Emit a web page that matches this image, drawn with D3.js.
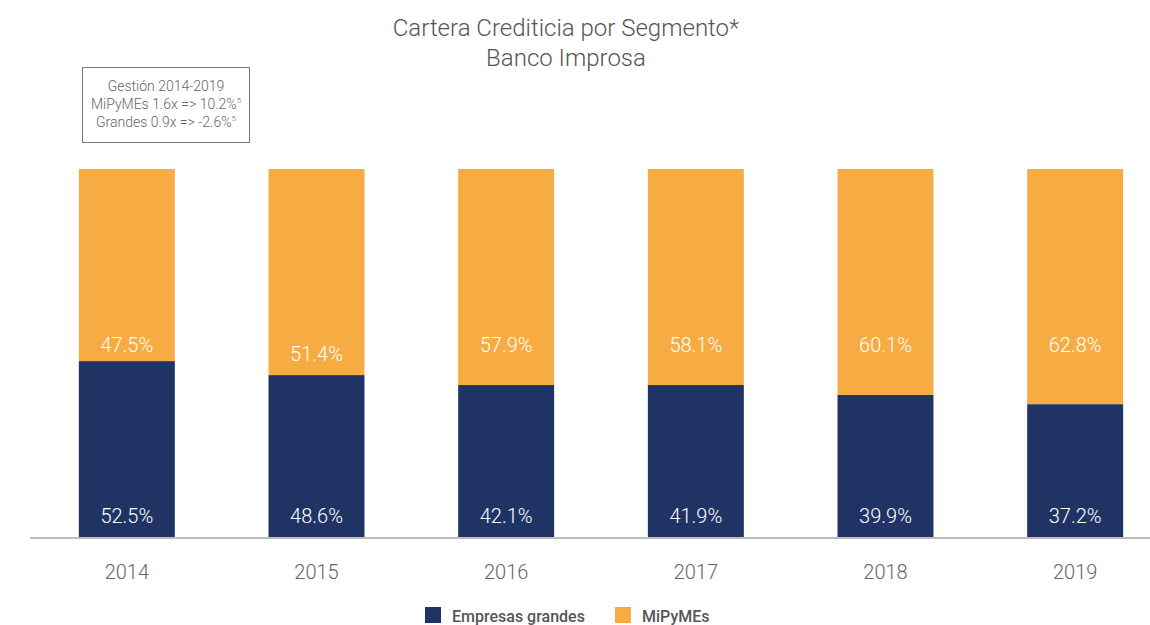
<!DOCTYPE html>
<html lang="es">
  <head>
    <meta charset="utf-8">
    <title>Cartera Crediticia por Segmento</title>
    <script src="https://d3js.org/d3.v7.min.js"></script>
    <style>
      body { margin: 0; background: #fff; }
      text { font-family: Roboto, "Noto Sans", sans-serif; }
    </style>
  </head>

  <body>
  <script>

// data

  var years = ["2014", "2015", "2016", "2017", "2018", "2019"];
  // share of the bar drawn for each segment (as measured on the picture)
  var grandesShare = [47.8, 44.0, 41.3, 41.3, 38.6, 36.1];
  var pymesShare   = [52.2, 56.0, 58.7, 58.7, 61.4, 63.9];
  // printed labels
  var grandesLabel = ["52.5%", "48.6%", "42.1%", "41.9%", "39.9%", "37.2%"];
  var pymesLabel   = ["47.5%", "51.4%", "57.9%", "58.1%", "60.1%", "62.8%"];
  var seriesNames  = ["Empresas grandes", "MiPyMEs"];
  var noteLines    = ["Gestión 2014-2019", "MiPyMEs 1.6x => 10.2%", "Grandes 0.9x => -2.6%"];

  var w = 1150;
  var h = 625;
  var navy = "#1f3464";
  var orange = "#f6ac42";

  var svg = d3.select("body")
    .append("svg")
      .attr("width", w)
      .attr("height", h);

  var xScale = d3.scaleBand()
      .domain(years)
      .range([32, 1170])
      .paddingInner(0.494)
      .paddingOuter(0.247);

  var yScale = d3.scaleLinear()
      .domain([0, 100])
      .range([537, 169]);

  var rows = years.map((y, i) => ({year: y, g: grandesShare[i], p: pymesShare[i]}));
  var stacked = d3.stack().keys(["g", "p"])(rows);
  var colors = [navy, orange];

  svg.append("g")
    .selectAll("g")
    .data(stacked)
    .join("g")
      .attr("fill", (d, i) => colors[i])
    .selectAll("rect")
    .data(d => d)
    .join("rect")
      .attr("x", d => xScale(d.data.year))
      .attr("y", d => yScale(d[1]))
      .attr("width", xScale.bandwidth())
      .attr("height", d => yScale(d[0]) - yScale(d[1]));

// value labels

  var cx = d => xScale(d) + xScale.bandwidth() / 2;

  svg.append("g")
    .selectAll("text")
    .data(years)
    .join("text")
      .attr("x", cx)
      .attr("y", 523)
      .attr("text-anchor", "middle")
      .attr("fill", "#fff")
      .attr("font-size", 20)
      .attr("font-weight", 300)
      .text((d, i) => grandesLabel[i]);

  svg.append("g")
    .selectAll("text")
    .data(years)
    .join("text")
      .attr("x", cx)
      .attr("y", (d, i) => i == 1 ? 361 : 352)
      .attr("text-anchor", "middle")
      .attr("fill", "#fff")
      .attr("font-size", 20)
      .attr("font-weight", 300)
      .text((d, i) => pymesLabel[i]);

// x axis

  svg.append("line")
      .attr("x1", 30).attr("x2", 1150)
      .attr("y1", 538).attr("y2", 538)
      .attr("stroke", "#bdbdbd")
      .attr("stroke-width", 2);

  svg.append("g")
    .selectAll("text")
    .data(years)
    .join("text")
      .attr("x", cx)
      .attr("y", 579)
      .attr("text-anchor", "middle")
      .attr("fill", "#666")
      .attr("font-size", 20)
      .attr("font-weight", 300)
      .text(d => d);

// title

  var title = svg.append("text")
      .attr("x", 566)
      .attr("text-anchor", "middle")
      .attr("fill", "#555")
      .attr("font-size", 24)
      .attr("font-weight", 300);
  title.append("tspan").attr("x", 566).attr("y", 36).text("Cartera Crediticia por Segmento*");
  title.append("tspan").attr("x", 566).attr("y", 66).text("Banco Improsa");

// note box

  svg.append("rect")
      .attr("x", 82.5).attr("y", 67.5)
      .attr("width", 167).attr("height", 75)
      .attr("fill", "none")
      .attr("stroke", "#777")
      .attr("stroke-width", 1);

  noteLines.forEach(function (line, i) {
    var t = svg.append("text")
        .attr("x", 166)
        .attr("y", 91 + i * 18)
        .attr("text-anchor", "middle")
        .attr("fill", "#666")
        .attr("font-size", 14)
        .attr("font-weight", 300)
        .text(line);
    if (i > 0) {
      t.append("tspan")
          .attr("font-size", 8)
          .attr("dy", -6)
          .text("5");
    }
  });

// legend

  var legendX = [425, 615];
  seriesNames.forEach(function (name, i) {
    svg.append("rect")
        .attr("x", legendX[i]).attr("y", 607)
        .attr("width", 16).attr("height", 16)
        .attr("fill", colors[i]);
    svg.append("text")
        .attr("x", legendX[i] + 27)
        .attr("y", 622)
        .attr("fill", "#555")
        .attr("font-size", 16)
        .attr("font-weight", 500)
        .text(name);
  });

  </script>
  </body>
</html>
